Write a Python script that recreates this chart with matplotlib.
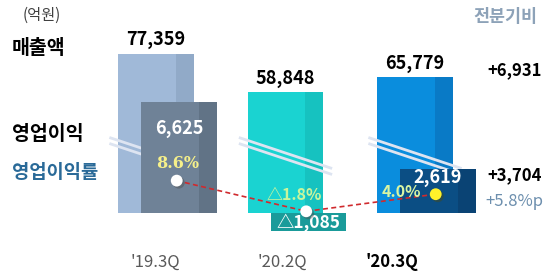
import matplotlib.pyplot as plt
import matplotlib.patheffects as pe
import numpy as np

plt.rcParams['font.family'] = ['Noto Sans CJK KR', 'DejaVu Sans']

# data
quarters = ["'19.3Q", "'20.2Q", "'20.3Q"]
revenue = [77359, 58848, 65779]
op_profit = [6625, -1085, 2619]
op_margin = [8.6, -1.8, 4.0]
revenue_labels = ['77,359', '58,848', '65,779']
profit_labels = ['6,625', '△1,085', '2,619']
margin_labels = ['8.6%', '△1.8%', '4.0%']
qoq_labels = ['+6,931', '+3,704', '+5.8%p']

# colours
rev_colors = ['#a0b9d8', '#1ad3d1', '#0a8ddd']
rev_side = ['#91aac8', '#16c2c0', '#097ac6']
prof_colors = ['#6f8297', '#1a9b9a', '#0b4e84']
prof_side = ['#617386', '#1a9b9a', '#0a4374']
margin_text_colors = ['#f6f08a', '#c9f59c', '#d9f5a2']
dot_colors = ['white', 'white', '#fff22a']

# layout (pixels of the 548x278 canvas)
W, H = 548, 278
BASE = 213          # baseline row
X0, STEP = 156, 129.5
BAR_W = 0.58
SIDE = 0.24
PROF_SHIFT = 0.178
DOT_SHIFT = 0.16
K_REV = 0.00206     # px per unit of revenue
K_PROF = 0.0167     # px per unit of profit
M_C, M_D = 206, 2.95
PX = 0.72           # px -> pt

fig = plt.figure(figsize=(W / 100, H / 100), dpi=100)
ax = fig.add_axes([0, 0, 1, 1])
ax2 = ax.twinx()
ax3 = ax.twinx()
for a in (ax, ax2, ax3):
    a.set_axis_off()
ax.set_xlim(-X0 / STEP, (W - X0) / STEP)
ax.set_ylim(-(H - BASE) / K_REV, BASE / K_REV)
ax2.set_ylim(-(H - BASE) / K_PROF, BASE / K_PROF)
ax3.set_ylim((M_C - H) / M_D, M_C / M_D)

x = np.arange(len(quarters))

# revenue bars with a darker right side
ax.bar(x, revenue, width=BAR_W, color=rev_colors, zorder=1)
ax.bar(x + BAR_W * (1 - SIDE) / 2, revenue, width=BAR_W * SIDE, color=rev_side, zorder=2)
for i, v in enumerate(revenue):
    ax.annotate(revenue_labels[i], (x[i], v), xytext=(0, 3), textcoords='offset points',
                ha='center', va='bottom', fontsize=13, fontweight='bold', color='black')

# axis break marks across the revenue bars
brk = (BASE - 156) / K_REV
rise = 15.5 / K_REV
gap = 3 / K_REV
for xi in x:
    for g in (-gap, gap):
        ax.plot([xi - 0.36, xi + 0.36], [brk + g + rise, brk + g - rise], color='#dde4f1',
                lw=2.0, solid_capstyle='butt', zorder=3)

# operating profit boxes
ax2.bar(x + PROF_SHIFT, op_profit, width=BAR_W, color=prof_colors, zorder=1)
ax2.bar(x + PROF_SHIFT + BAR_W * (1 - SIDE) / 2, op_profit, width=BAR_W * SIDE,
        color=prof_side, zorder=2)
prof_off = [(0, -26), (0, 8), (0, -8)]
for i, v in enumerate(op_profit):
    dx, dy = prof_off[i]
    ax2.annotate(profit_labels[i], (x[i] + PROF_SHIFT, v), xytext=(dx * PX, dy * PX),
                 textcoords='offset points', ha='center', va='center',
                 fontsize=12.5 if v < 0 else 13,
                 fontweight='bold', color='white', zorder=4)

# operating margin line
mx = x + DOT_SHIFT
ax3.plot(mx, op_margin, color='#d02a2e', lw=1.2, ls=(0, (3, 2)), zorder=3)
for i, v in enumerate(op_margin):
    ax3.plot(mx[i], v, marker='o', ms=8.5, color=dot_colors[i], mec='none', zorder=5,
             path_effects=[pe.SimplePatchShadow(offset=(1.5, -1.5), alpha=0.45), pe.Normal()])
marg_off = [(1, 17), (-12, 16), (-34, 2)]
for i, v in enumerate(op_margin):
    dx, dy = marg_off[i]
    ax3.annotate(margin_labels[i], (mx[i], v), xytext=(dx * PX, dy * PX),
                 textcoords='offset points', ha='center', va='center', fontsize=11.5,
                 fontweight='bold', color=margin_text_colors[i], zorder=6,
                 family=['DejaVu Serif'] if i == 0 else None)

# quarter labels
xl_dx = [-1, -3, -23]
for i, q in enumerate(quarters):
    last = i == len(quarters) - 1
    ax.annotate(q, (x[i], 0), xytext=(xl_dx[i] * PX, -49 * PX), textcoords='offset points',
                ha='center', va='center', fontsize=12,
                fontweight='bold' if last else 'normal',
                color='black' if last else '#595959')

# side labels
def ftext(px, py, s, **kw):
    fig.text(px / W, 1 - py / H, s, va='center', **kw)

ftext(42, 15, '(억원)', ha='center', fontsize=11, color='#404040')
ftext(12, 49, '매출액', ha='left', fontsize=14, fontweight='bold', color='black')
ftext(12, 134, '영업이익', ha='left', fontsize=14, fontweight='bold', color='black')
ftext(12, 172, '영업이익률', ha='left', fontsize=13.5, fontweight='bold', color='#2a6a98')
ftext(505, 17, '전분기비', ha='center', fontsize=12.5, fontweight='bold', color='#8da2b8')
ftext(515, 70, qoq_labels[0], ha='center', fontsize=12, fontweight='bold', color='black')
ftext(515, 175, qoq_labels[1], ha='center', fontsize=12, fontweight='bold', color='black')
ftext(514, 202, qoq_labels[2], ha='center', fontsize=12, color='#6d8fae')

fig.savefig('out.png', dpi=100)
